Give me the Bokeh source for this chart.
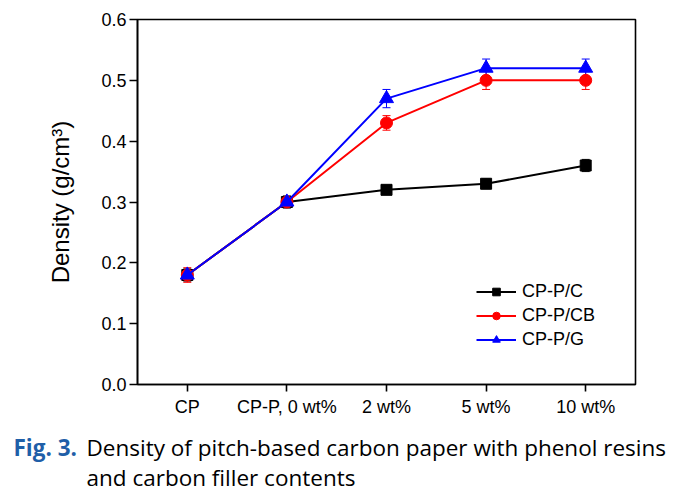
from bokeh.plotting import figure
from bokeh.layouts import column
from bokeh.models import (ColumnDataSource, Whisker, TeeHead, Legend, LegendItem,
                          FixedTicker, PrintfTickFormatter, Label, FactorRange, Range1d)
from bokeh.embed import file_html
from bokeh.resources import INLINE

categories = ["CP", "CP-P, 0 wt%", "2 wt%", "5 wt%", "10 wt%"]
cp_p_c = [0.18, 0.30, 0.32, 0.33, 0.36]
cp_p_c_err = [0.010, 0.010, 0.006, 0.008, 0.010]
cp_p_cb = [0.18, 0.30, 0.43, 0.50, 0.50]
cp_p_cb_err = [0.012, 0.008, 0.012, 0.015, 0.015]
cp_p_g = [0.18, 0.30, 0.47, 0.52, 0.52]
cp_p_g_err = [0.008, 0.008, 0.015, 0.015, 0.015]
series_names = ["CP-P/C", "CP-P/CB", "CP-P/G"]
y_ticks = [0.0, 0.1, 0.2, 0.3, 0.4, 0.5, 0.6]
caption_fig = "Fig. 3."
caption_line1 = "Density of pitch-based carbon paper with phenol resins"
caption_line2 = "and carbon filler contents"

W = 682
H_MAIN, H_CAP = 425, 76
p = figure(width=W, height=H_MAIN, x_range=FactorRange(*categories), y_range=Range1d(0, 0.6),
           output_backend="svg", toolbar_location=None, frame_align=False,
           min_border_left=137, min_border_right=47, min_border_top=19, min_border_bottom=41)
p.xgrid.visible = False
p.ygrid.visible = False
p.outline_line_color = "black"
p.outline_line_width = 1.6
p.outline_line_alpha = 1.0
p.background_fill_color = "white"
p.border_fill_color = "white"

FONT = "Liberation Sans"
for ax in (p.xaxis[0], p.yaxis[0]):
    ax.axis_line_width = 1.6
    ax.axis_line_color = "black"
    ax.major_tick_line_width = 1.6
    ax.major_tick_line_color = "black"
    ax.major_tick_in = 0
    ax.minor_tick_line_color = None
    ax.major_label_text_font = FONT
    ax.major_label_text_font_size = "18px"
    ax.major_label_text_color = "black"

p.yaxis.ticker = FixedTicker(ticks=y_ticks)
p.yaxis.formatter = PrintfTickFormatter(format="%.1f")
p.yaxis.major_tick_out = 8
p.yaxis.major_label_standoff = 3
p.yaxis.axis_label = "Density (g/cm³)"
p.yaxis.axis_label_text_font = FONT
p.yaxis.axis_label_text_font_size = "24px"
p.yaxis.axis_label_text_font_style = "normal"
p.yaxis.axis_label_standoff = 24
p.yaxis.axis_label_text_color = "black"
p.xaxis.major_tick_out = 7
p.xaxis.major_label_standoff = 5

items = []
specs = [(cp_p_c, cp_p_c_err, "black", "square", 11),
         (cp_p_cb, cp_p_cb_err, "red", "circle", 12),
         (cp_p_g, cp_p_g_err, "blue", "triangle", 14)]
for name, (vals, errs, col, mk, sz) in zip(series_names, specs):
    src = ColumnDataSource(dict(x=categories, y=vals,
                                lo=[v - e for v, e in zip(vals, errs)],
                                hi=[v + e for v, e in zip(vals, errs)]))
    wh = Whisker(base="x", upper="hi", lower="lo", source=src,
                 line_color=col, line_width=1,
                 upper_head=TeeHead(size=8, line_color=col, line_width=1),
                 lower_head=TeeHead(size=8, line_color=col, line_width=1))
    p.add_layout(wh)
    ln = p.line("x", "y", source=src, line_color=col, line_width=2)
    sc = p.scatter("x", "y", source=src, marker=mk, size=sz, fill_color=col, line_color=col)
    items.append(LegendItem(label=name, renderers=[ln, sc]))

leg = Legend(items=items, location=(339, 34), border_line_alpha=0,
             background_fill_alpha=0, padding=0, margin=0, spacing=3,
             glyph_width=40, glyph_height=19, label_standoff=6,
             label_text_font=FONT, label_text_font_size="18px", label_text_color="black")
p.add_layout(leg)

# caption panel
cap = figure(width=W, height=H_CAP, x_range=Range1d(0, 1), y_range=Range1d(0, 1),
             output_backend="svg", toolbar_location=None, frame_align=False,
             min_border_left=0, min_border_right=0, min_border_top=0, min_border_bottom=0)
cap.axis.visible = False
cap.grid.visible = False
cap.outline_line_color = None
cap.background_fill_color = "white"
cap.border_fill_color = "white"

CAP_FONT = "Open Sans"
CAP_SIZE = "22.5px"
cap.add_layout(Label(x=13, y=54, x_units="screen", y_units="screen", text=caption_fig,
                     text_font=CAP_FONT, text_font_style="bold", text_font_size=CAP_SIZE,
                     text_color="#1f5fa8", text_baseline="alphabetic"))
cap.add_layout(Label(x=86, y=54, x_units="screen", y_units="screen", text=caption_line1,
                     text_font=CAP_FONT, text_font_size=CAP_SIZE, text_color="black",
                     text_baseline="alphabetic"))
cap.add_layout(Label(x=86, y=24, x_units="screen", y_units="screen", text=caption_line2,
                     text_font=CAP_FONT, text_font_size=CAP_SIZE, text_color="black",
                     text_baseline="alphabetic"))

layout = column(p, cap, spacing=0)
open("out.html", "w").write(file_html(layout, INLINE))
